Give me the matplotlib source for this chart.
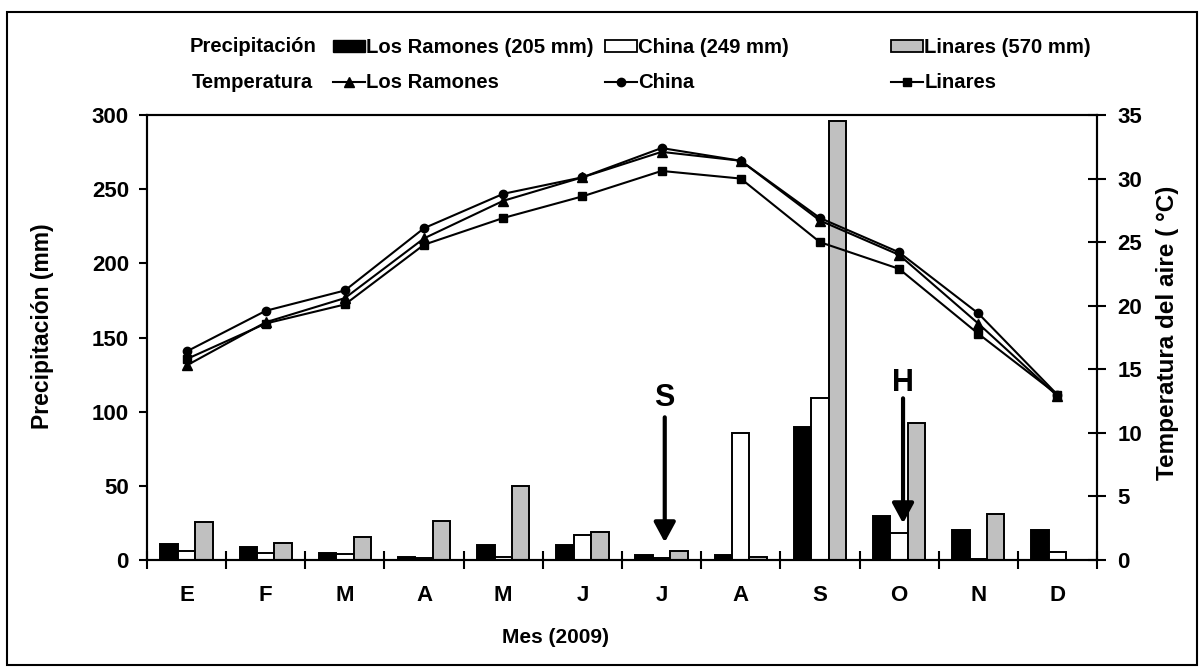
import numpy as np
import matplotlib
matplotlib.use("Agg")
import matplotlib.pyplot as plt
from matplotlib.patches import Patch, Rectangle
from matplotlib.lines import Line2D

# --- data ---
months = ["E", "F", "M", "A", "M", "J", "J", "A", "S", "O", "N", "D"]

# precipitation (mm)
prec_ramones = [11.1, 8.9, 4.4, 2.2, 10.2, 9.8, 3.4, 3.4, 89.9, 29.7, 20.4, 20.4]
prec_china = [6.0, 4.9, 4.2, 1.3, 2.2, 16.9, 1.6, 85.4, 109.4, 18.0, 0.9, 5.2]
prec_linares = [25.6, 11.6, 15.6, 26.4, 50.0, 18.9, 6.0, 1.8, 296.0, 92.1, 31.0, 0.0]

# air temperature (C)
temp_ramones = [15.3, 18.7, 20.6, 25.3, 28.25, 30.1, 32.1, 31.4, 26.7, 24.0, 18.6, 12.9]
temp_china = [16.4, 19.6, 21.2, 26.1, 28.8, 30.1, 32.4, 31.4, 26.9, 24.2, 19.4, 13.0]
temp_linares = [15.8, 18.6, 20.1, 24.8, 26.9, 28.6, 30.6, 30.0, 25.0, 22.9, 17.8, 13.0]

# event arrows: (label, x position, arrow top mm, arrow tip mm, label y mm)
events = [("S", 6.04, 96.2, 11.9, 109.0), ("H", 9.05, 109.0, 24.7, 119.3)]

# --- style ---
W, H = 1199, 668
GRAY = "#C0C0C0"
plt.rcParams["font.family"] = ["Liberation Sans", "DejaVu Sans"]
plt.rcParams["font.weight"] = "bold"
TICK_FS = 16
LABEL_FS = 16.5
LEG_FS = 14.6

fig = plt.figure(figsize=(W / 100, H / 100), dpi=100)
ax = fig.add_axes([147 / W, 1 - 560 / H, 950 / W, 445 / H])
ax2 = ax.twinx()

x = np.arange(len(months))
bw = 0.22
ax.bar(x - bw, prec_ramones, bw, color="black", edgecolor="black", linewidth=1.4, zorder=2)
ax.bar(x, prec_china, bw, color="white", edgecolor="black", linewidth=1.4, zorder=2)
ax.bar(x + bw, prec_linares, bw, color=GRAY, edgecolor="black", linewidth=1.4, zorder=2)

lkw = dict(color="black", linewidth=1.5)
ax2.plot(x, temp_ramones, marker="^", markersize=6.5, **lkw)
ax2.plot(x, temp_china, marker="o", markersize=6, **lkw)
ax2.plot(x, temp_linares, marker="s", markersize=5.5, **lkw)

for lab, xe, y0, y1, yl in events:
    ax.annotate("", xy=(xe, y1), xytext=(xe, y0),
                arrowprops=dict(arrowstyle="-|>,head_length=1.2,head_width=0.65",
                                color="black", lw=3, shrinkA=0, shrinkB=0))
    ax.text(xe, yl, lab, ha="center", va="center", fontsize=22, fontweight="bold")

ax.set_xlim(-0.5, 11.5)
ax.set_ylim(0, 300)
ax2.set_ylim(0, 35)
ax.set_yticks(np.arange(0, 301, 50))
ax2.set_yticks(np.arange(0, 36, 5))
ax.set_xticks(np.arange(-0.5, 12, 1))
ax.set_xticklabels([])
ax.set_xticks(x, minor=True)
ax.set_xticklabels(months, minor=True)
ax.tick_params(axis="x", which="major", direction="inout", length=13, width=1.5)
ax.tick_params(axis="x", which="minor", length=0, pad=18, labelsize=TICK_FS)
ax.tick_params(axis="y", direction="out", length=6, width=1.5, labelsize=TICK_FS, pad=7)
ax2.tick_params(axis="y", direction="inout", length=13, width=1.5, labelsize=TICK_FS, pad=8)
for a in (ax, ax2):
    for s in a.spines.values():
        s.set_linewidth(1.5)

ax.set_ylabel("Precipitación (mm)", fontsize=LABEL_FS, fontweight="bold")
ax.yaxis.set_label_coords(-0.098, 0.526)
ax2.set_ylabel("Temperatura del aire ( °C)", fontsize=17.5, fontweight="bold")
ax2.yaxis.set_label_coords(1.062, 0.51)
ax.set_xlabel("Mes (2009)", fontsize=15, fontweight="bold")
ax.xaxis.set_label_coords(0.43, -0.153)

# --- legend, laid out in columns like the original ---
fig.text(190 / W, 1 - 47 / H, "Precipitación", ha="left", va="center",
         fontsize=LEG_FS, fontweight="bold")
fig.text(192 / W, 1 - 83 / H, "Temperatura", ha="left", va="center",
         fontsize=LEG_FS, fontweight="bold")

cols = [
    (333, Patch(facecolor="black", edgecolor="black"), "Los Ramones (205 mm)",
     Line2D([], [], color="black", lw=1.5, marker="^", markersize=6.5), "Los Ramones"),
    (605, Patch(facecolor="white", edgecolor="black", linewidth=1.3), "China (249 mm)",
     Line2D([], [], color="black", lw=1.5, marker="o", markersize=6), "China"),
    (891, Patch(facecolor=GRAY, edgecolor="black", linewidth=1.3), "Linares (570 mm)",
     Line2D([], [], color="black", lw=1.5, marker="s", markersize=5.5), "Linares"),
]
for xpos, p, plab, ln, llab in cols:
    fig.legend(handles=[p, ln], labels=[plab, llab], loc="upper left",
               bbox_to_anchor=(xpos / W, 1 - 38 / H), frameon=False,
               handlelength=1.6, handleheight=0.55, handletextpad=0.05,
               labelspacing=0.8, borderpad=0, borderaxespad=0,
               prop=dict(weight="bold", size=LEG_FS))

# outer frame
fig.patches.append(Rectangle((7 / W, 3 / H), 1190 / W, 653 / H, transform=fig.transFigure,
                             fill=False, edgecolor="black", linewidth=1.5))

fig.savefig("out.png", dpi=100)
